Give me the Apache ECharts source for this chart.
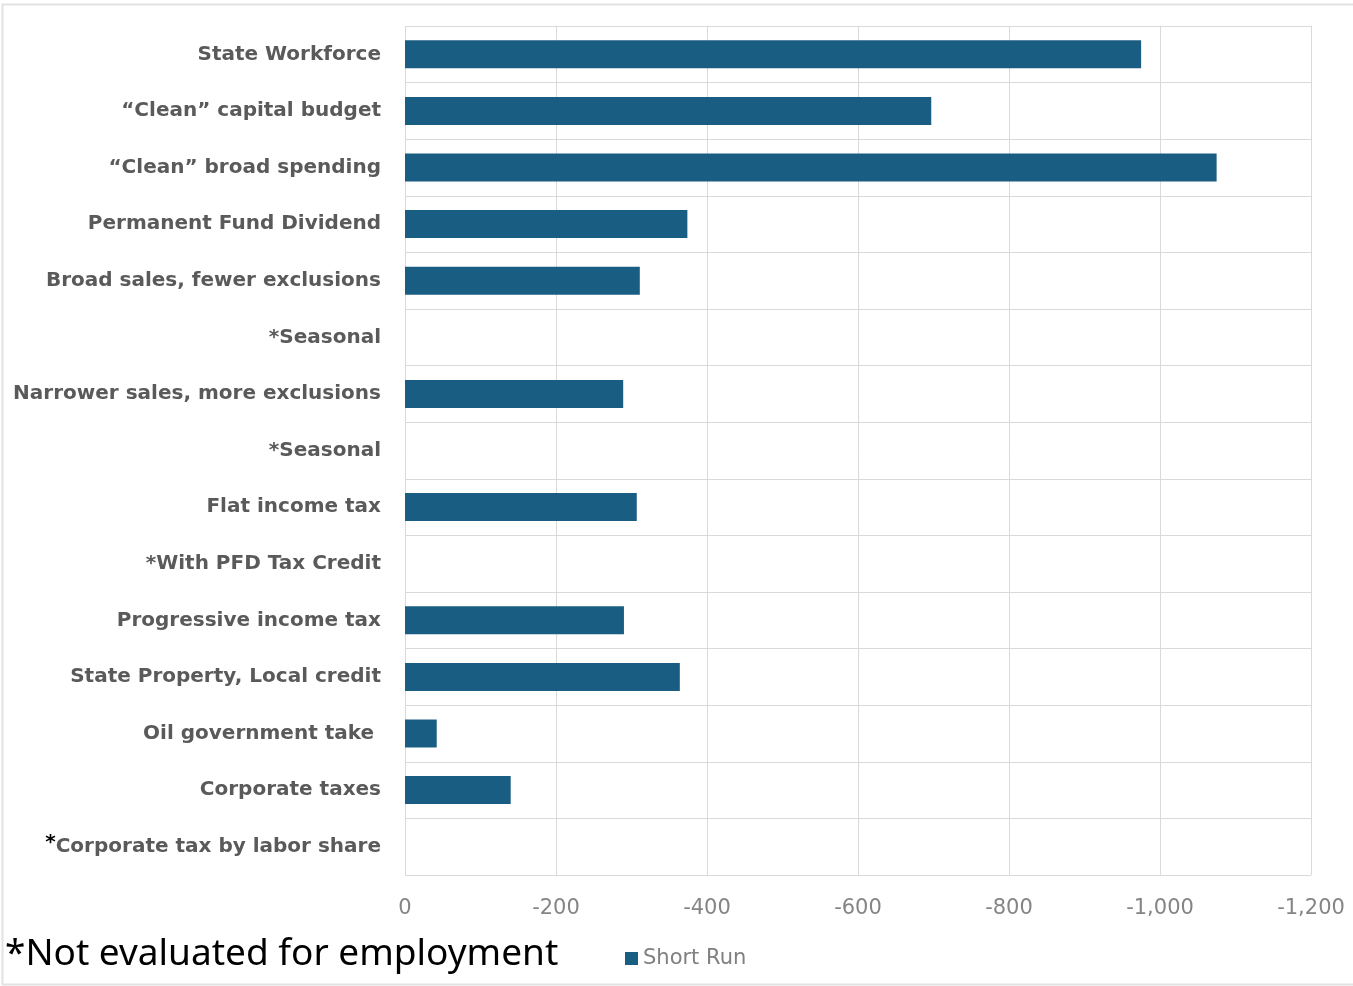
<!DOCTYPE html>
<html>
<head>
<meta charset="utf-8">
<script src="https://cdn.jsdelivr.net/npm/echarts@6/dist/echarts.min.js"></script>
<style>
  html, body { margin: 0; padding: 0; background: #fff; }
  #chart { width: 1353px; height: 986px; }
</style>
</head>
<body>
<div id="chart"></div>
<script>
// Policy scenarios, top to bottom
const categories = [
  'State Workforce',
  '\u201cClean\u201d capital budget',
  '\u201cClean\u201d broad spending',
  'Permanent Fund Dividend',
  'Broad sales, fewer exclusions',
  '*Seasonal',
  'Narrower sales, more exclusions',
  '*Seasonal ',
  'Flat income tax',
  '*With PFD Tax Credit',
  'Progressive income tax',
  'State Property, Local credit',
  'Oil government take',
  'Corporate taxes',
  '*Corporate tax by labor share'
];

// Short-run employment change (null = not evaluated)
const shortRun = [-975, -697, -1075, -374, -311, null, -289, null, -307, null, -290, -364, -42, -140, null];

const seriesName = 'Short Run';
const footnote = '*Not evaluated for employment';

const barColor = '#195e82';
const labelGray = '#5a5a5a';
const gridGray = '#d9d9d9';
const labelFont = 'DejaVu Sans, sans-serif';

const chart = echarts.init(document.getElementById('chart'), null, { renderer: 'canvas' });

chart.setOption({
  animation: false,
  backgroundColor: '#fff',
  grid: { left: 405, right: 42, top: 26, bottom: 111, containLabel: false },
  legend: {
    data: [seriesName],
    left: 620,
    top: 943,
    icon: 'rect',
    itemWidth: 13,
    itemHeight: 13,
    itemGap: 6,
    textStyle: { color: '#808080', fontSize: 21, fontFamily: labelFont }
  },
  xAxis: {
    type: 'value',
    inverse: true,
    min: -1200,
    max: 0,
    interval: 200,
    axisLine: { show: false },
    axisTick: { show: false },
    splitLine: { show: true, lineStyle: { color: gridGray, width: 1 } },
    axisLabel: {
      color: '#858585',
      fontSize: 21,
      margin: 23,
      fontFamily: labelFont,
      formatter: v => v === 0 ? '0' : '-' + Math.abs(v).toLocaleString('en-US')
    }
  },
  yAxis: {
    type: 'category',
    inverse: true,
    data: categories,
    axisLine: { show: false },
    axisTick: { show: false },
    splitLine: { show: true, lineStyle: { color: gridGray, width: 1 } },
    axisLabel: {
      margin: 24,
      color: labelGray,
      fontSize: 20,
      fontWeight: 'bold',
      fontFamily: labelFont,
      formatter: function (v) {
        if (v === '*Corporate tax by labor share') {
          return '{star|*}{txt|Corporate tax by labor share}';
        }
        if (v === 'Oil government take') return v + ' ';
        return v.trim();
      },
      rich: {
        star: { color: '#000', fontSize: 20, fontFamily: labelFont, verticalAlign: 'top', padding: [0, 0, 8, 0] },
        txt: { color: labelGray, fontSize: 20, fontWeight: 'bold', fontFamily: labelFont }
      }
    }
  },
  series: [{
    name: seriesName,
    type: 'bar',
    data: shortRun,
    barWidth: 28,
    itemStyle: { color: barColor }
  }],
  graphic: [
    {
      type: 'rect',
      left: 0, top: 2,
      shape: { width: 1353, height: 980 },
      style: { fill: 'none', stroke: '#e2e2e2', lineWidth: 2 },
      silent: true
    },
    {
      type: 'text',
      left: 5,
      top: 936,
      style: {
        text: footnote,
        fill: '#000',
        fontSize: 37,
        fontFamily: 'Noto Sans, sans-serif'
      }
    }
  ]
});
</script>
</body>
</html>
